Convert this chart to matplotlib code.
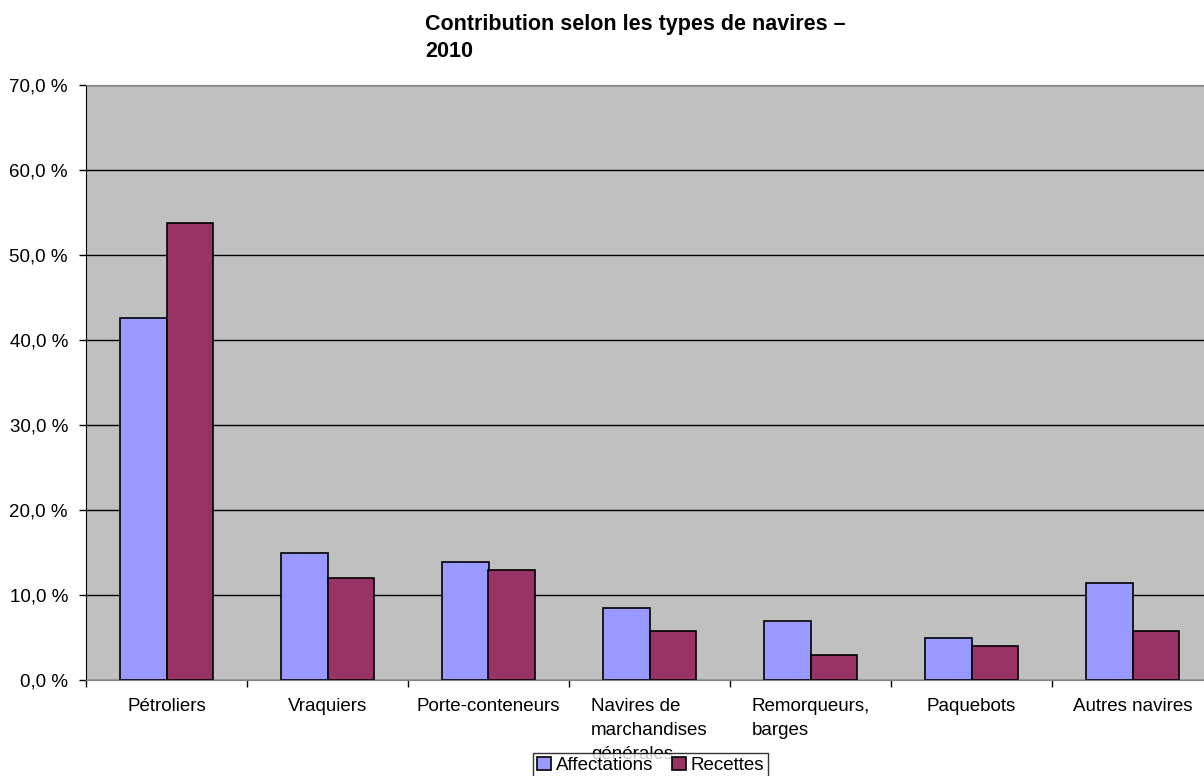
import matplotlib.pyplot as plt
import numpy as np

plt.rcParams['font.family'] = ['Liberation Sans', 'DejaVu Sans']

categories = ["Pétroliers", "Vraquiers", "Porte-conteneurs",
              "Navires de\nmarchandises\ngénérales", "Remorqueurs,\nbarges",
              "Paquebots", "Autres navires"]
affectations = [42.6, 15.0, 13.9, 8.5, 7.0, 5.0, 11.4]
recettes = [53.8, 12.0, 13.0, 5.8, 3.0, 4.0, 5.8]
labels = ["Affectations", "Recettes"]
yticks = [0, 10, 20, 30, 40, 50, 60, 70]
title = "Contribution selon les types de navires –\n2010"


def create_bars(ax, data, labels, colours):
    bar_width = 0.286
    index = np.arange(len(data[0]))
    bars = []
    for i, dataset in enumerate(data):
        offset = (i - 0.5) * bar_width
        bars.append(ax.bar(index + offset, dataset, width=bar_width, label=labels[i],
                           color=colours[i], edgecolor="black", linewidth=1.2, zorder=3))
    return bars


def plot_chart():
    fig = plt.figure(figsize=(12.04, 7.76), dpi=100)
    ax = fig.add_axes([86 / 1204, 1 - 680 / 776, (1213 - 86) / 1204, (680 - 85) / 776])
    ax.set_facecolor("#C0C0C0")

    bars = create_bars(ax, [affectations, recettes], labels, ["#9999FF", "#993366"])

    ax.set_xlim(-0.5, len(categories) - 0.5)
    ax.set_ylim(0, 70)
    ax.set_yticks(yticks)
    ax.set_yticklabels([f"{v:.1f} %".replace(".", ",") for v in yticks], fontsize=13.5)

    # category labels in the middle, tick marks on the boundaries
    ax.set_xticks(np.arange(len(categories)))
    ax.set_xticklabels(categories, fontsize=13.5, multialignment="left", linespacing=1.55)
    ax.tick_params(axis="x", which="major", length=0, pad=13)
    ax.set_xticks(np.arange(len(categories) + 1) - 0.5, minor=True)
    ax.tick_params(axis="x", which="minor", length=5, width=1, direction="out")
    ax.tick_params(axis="y", length=5, width=1, pad=8)

    ax.grid(True, axis="y", color="black", linewidth=1)
    ax.set_axisbelow(True)

    ax.spines["right"].set_visible(False)
    ax.spines["top"].set_color("#808080")
    ax.spines["bottom"].set_color("#808080")
    ax.spines["left"].set_color("black")

    fig.text(425 / 1204, 1 - 14 / 776, title, ha="left", va="top",
             fontsize=15.5, fontweight="bold", linespacing=1.35)

    leg = fig.legend(handles=bars, labels=labels, ncol=2, loc="upper left",
                     bbox_to_anchor=(533 / 1204, 1 - 753 / 776), fontsize=13.5,
                     frameon=True, fancybox=False, borderaxespad=0, borderpad=0.2,
                     handlelength=0.75, handleheight=0.75, handletextpad=0.25,
                     columnspacing=1.0)
    leg.get_frame().set_edgecolor("black")
    leg.get_frame().set_linewidth(1)
    leg.set_zorder(10)

    fig.savefig("out.png", dpi=100)


if __name__ == "__main__":
    plot_chart()
